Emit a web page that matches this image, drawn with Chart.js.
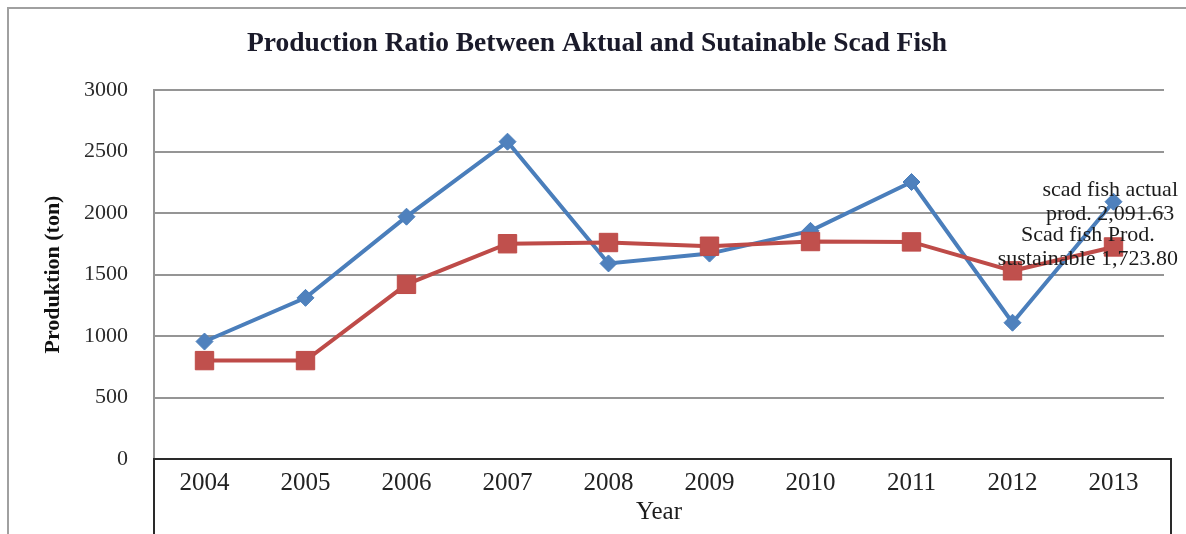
<!DOCTYPE html>
<html>
<head>
<meta charset="utf-8">
<title>Production Ratio Between Aktual and Sutainable Scad Fish</title>
<script src="https://cdn.jsdelivr.net/npm/chart.js@4.4.1/dist/chart.umd.min.js"></script>
<style>
  html, body { margin: 0; padding: 0; background: #ffffff; }
  canvas { display: block; }
</style>
</head>
<body>
<canvas id="chart" width="1186" height="534"></canvas>
<script>
// Scad fish production, tons per year
const years = ['2004', '2005', '2006', '2007', '2008', '2009', '2010', '2011', '2012', '2013'];
const actualProd = [955, 1310, 1970, 2580, 1590, 1670, 1855, 2252, 1108, 2091.63];
const sustainableProd = [800, 800, 1420, 1750, 1760, 1730, 1768, 1765, 1530, 1723.80];
const yTicks = [0, 500, 1000, 1500, 2000, 2500, 3000];

const chartTitle = 'Production Ratio Between Aktual and Sutainable Scad Fish';
const seriesNames = ['scad fish actual prod.', 'Scad fish Prod. sustainable'];

const fmt = v => v.toLocaleString('en-US', { minimumFractionDigits: 2, maximumFractionDigits: 2 });

// Two-line data labels shown on the last point of each series
const lastLabels = [
  ['scad fish actual', 'prod. ' + fmt(actualProd[actualProd.length - 1])],
  ['Scad fish Prod.', 'sustainable ' + fmt(sustainableProd[sustainableProd.length - 1])]
];

const SERIF = '"Liberation Serif", "Times New Roman", serif';

// Outer chart frame, the heading and the boxed category-axis area
const framePlugin = {
  id: 'frame',
  beforeDraw(chart) {
    const ctx = chart.ctx;
    ctx.save();
    ctx.strokeStyle = '#a0a0a0';
    ctx.lineWidth = 2;
    ctx.strokeRect(8, 8, chart.width + 20, chart.height + 20);
    ctx.font = 'bold 27.5px ' + SERIF;
    ctx.fillStyle = '#1a1a2a';
    ctx.textAlign = 'center';
    ctx.textBaseline = 'middle';
    ctx.fillText(chartTitle, chart.width / 2 + 4, 44);
    ctx.restore();
  },
  afterDraw(chart) {
    const ctx = chart.ctx;
    const area = chart.chartArea;
    const y0 = chart.scales.y.getPixelForValue(0);
    ctx.save();
    ctx.strokeStyle = '#2a2a2a';
    ctx.lineWidth = 2;
    ctx.beginPath();
    ctx.moveTo(area.left, chart.height + 5);
    ctx.lineTo(area.left, y0);
    ctx.lineTo(area.right + 7, y0);
    ctx.lineTo(area.right + 7, chart.height + 5);
    ctx.stroke();
    ctx.restore();
  }
};

// Centered data labels on the final point, kept inside the canvas
const lastLabelPlugin = {
  id: 'lastLabel',
  afterDatasetsDraw(chart) {
    const ctx = chart.ctx;
    ctx.save();
    ctx.font = '22px ' + SERIF;
    ctx.fillStyle = '#1c1c1c';
    ctx.textAlign = 'center';
    ctx.textBaseline = 'middle';
    const lineH = 24;
    chart.data.datasets.forEach((ds, i) => {
      const meta = chart.getDatasetMeta(i);
      const pt = meta.data[meta.data.length - 1];
      const lines = lastLabels[i];
      const w = Math.max(...lines.map(t => ctx.measureText(t).width));
      let cx = pt.x;
      const maxRight = chart.width - 8;
      if (cx + w / 2 > maxRight) cx = maxRight - w / 2;
      const top = pt.y - (lines.length - 1) * lineH / 2;
      lines.forEach((t, k) => ctx.fillText(t, cx, top + k * lineH));
    });
    ctx.restore();
  }
};

new Chart(document.getElementById('chart'), {
  type: 'line',
  data: {
    labels: years,
    datasets: [
      {
        label: seriesNames[0],
        data: actualProd,
        order: 1,
        borderColor: '#4a7ebb',
        backgroundColor: '#4f81bd',
        borderWidth: 4,
        pointStyle: 'rectRot',
        pointRadius: 8.5,
        pointBorderWidth: 1,
        pointBorderColor: '#4a7ebb',
        pointBackgroundColor: '#4f81bd',
        tension: 0
      },
      {
        label: seriesNames[1],
        data: sustainableProd,
        order: 0,
        borderColor: '#be4b48',
        backgroundColor: '#c0504d',
        borderWidth: 4,
        pointStyle: 'rect',
        pointRadius: 13,
        pointBorderWidth: 1,
        pointBorderColor: '#be4b48',
        pointBackgroundColor: '#c0504d',
        tension: 0
      }
    ]
  },
  options: {
    responsive: false,
    animation: false,
    layout: { padding: { top: 90, left: 0, right: 22, bottom: 0 } },
    plugins: {
      legend: { display: false },
      tooltip: { enabled: false },
      title: { display: false }
    },
    scales: {
      x: {
        offset: true,
        grid: { display: false, drawTicks: false },
        border: { display: false },
        ticks: {
          color: '#222222',
          font: { family: SERIF, size: 25 },
          padding: 9,
          maxRotation: 0,
          autoSkip: false
        },
        title: {
          display: true,
          text: 'Year',
          color: '#1c1c1c',
          font: { family: SERIF, size: 25 },
          padding: { top: 0, bottom: 7 }
        },
        afterFit(scale) { scale.height = 75; }
      },
      y: {
        min: 0,
        max: 3000,
        afterBuildTicks(scale) { scale.ticks = yTicks.map(v => ({ value: v })); },
        grid: {
          drawTicks: false,
          lineWidth: 2,
          color: ctx => (ctx.tick && ctx.tick.value === 0) ? 'rgba(0,0,0,0)' : '#959595'
        },
        border: { display: true, color: '#959595', width: 2 },
        ticks: {
          color: '#2a2a2a',
          font: { family: SERIF, size: 22 },
          padding: 26,
          callback: v => String(v)
        },
        title: {
          display: true,
          text: 'Produktion (ton)',
          color: '#111111',
          font: { family: SERIF, size: 22, weight: 'bold' },
          padding: { top: 40, bottom: 0 }
        },
        afterFit(scale) { scale.width = 154; }
      }
    }
  },
  plugins: [framePlugin, lastLabelPlugin]
});
</script>
</body>
</html>
